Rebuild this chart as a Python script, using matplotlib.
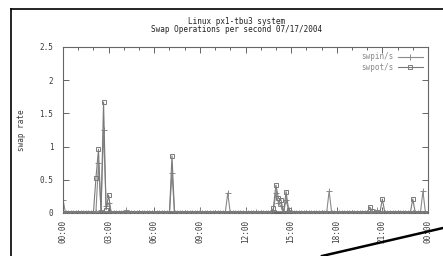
import numpy as np
import matplotlib
matplotlib.use('Agg')
from matplotlib import pyplot as plt
from matplotlib.lines import Line2D

# sar samples every 10 minutes, one row per hour (00:00 .. 23:50), plus 24:00
swpin = [0.20, 0, 0, 0, 0, 0,
         0, 0, 0, 0, 0, 0,
         0, 0.02, 0.75, 0.05, 1.25, 0.10,
         0.15, 0, 0, 0, 0, 0,
         0, 0.04, 0, 0, 0, 0,
         0, 0, 0, 0, 0, 0,
         0, 0, 0, 0, 0, 0,
         0, 0.60, 0, 0, 0, 0,
         0, 0, 0, 0, 0, 0,
         0.03, 0, 0, 0, 0, 0,
         0, 0, 0, 0, 0, 0.30,
         0, 0, 0, 0, 0, 0,
         0.02, 0, 0, 0, 0.02, 0,
         0, 0, 0, 0, 0, 0.05,
         0.30, 0.15, 0.10, 0, 0.20, 0.04,
         0, 0, 0, 0, 0, 0,
         0, 0, 0, 0, 0, 0,
         0, 0, 0, 0.33, 0, 0,
         0, 0, 0, 0, 0, 0,
         0, 0, 0, 0, 0, 0,
         0, 0.02, 0, 0.02, 0.04, 0.02,
         0, 0, 0, 0, 0, 0,
         0, 0, 0, 0, 0, 0,
         0, 0, 0, 0, 0.33, 0,
         0]
swpot = [0, 0, 0, 0, 0, 0,
         0, 0, 0, 0, 0, 0,
         0, 0.53, 0.96, 0, 1.67, 0.05,
         0.27, 0, 0, 0, 0, 0,
         0, 0, 0, 0, 0, 0,
         0, 0, 0, 0, 0, 0,
         0, 0, 0, 0, 0, 0,
         0, 0.86, 0, 0, 0, 0,
         0, 0, 0, 0, 0, 0,
         0, 0, 0, 0, 0, 0,
         0, 0, 0, 0, 0, 0,
         0, 0, 0, 0, 0, 0,
         0, 0, 0, 0, 0, 0,
         0, 0, 0, 0, 0, 0.07,
         0.42, 0.22, 0.20, 0, 0.32, 0.05,
         0, 0, 0, 0, 0, 0,
         0, 0, 0, 0, 0, 0,
         0, 0, 0, 0, 0, 0,
         0, 0, 0, 0, 0, 0,
         0, 0, 0, 0, 0, 0,
         0, 0.09, 0.03, 0, 0, 0,
         0.21, 0, 0, 0, 0, 0,
         0, 0, 0, 0, 0, 0,
         0.21, 0, 0, 0, 0, 0,
         0]
hour_ticks = [0, 3, 6, 9, 12, 15, 18, 21, 24]
hour_labels = ['00:00', '03:00', '06:00', '09:00', '12:00',
               '15:00', '18:00', '21:00', '00:00']
y_ticks = [0, 0.5, 1, 1.5, 2, 2.5]
y_labels = ['0', '0.5', '1', '1.5', '2', '2.5']

hours = np.arange(len(swpin)) / 6.0

txt = '#3a3a3a'
mono = 'DejaVu Sans Mono'
plt.rcParams['font.family'] = mono
plt.rcParams['font.size'] = 5.5

fig = plt.figure(figsize=(4.43, 2.56), dpi=100)
ax = fig.add_axes([63 / 443, 1 - 213 / 256, 365 / 443, 166 / 256])

# thick band of overlapping markers along zero, as in the scan
ax.axhline(0.005, color='#6a6a6a', lw=2.6, zorder=1)
ax.plot(hours, swpin, color='#8a8a8a', lw=0.8, marker='+', ms=4, mew=0.7,
        label='swpin/s', zorder=2)
ax.plot(hours, swpot, color='#7a7a7a', lw=0.8, marker='s', ms=3.2, mew=0.7,
        mfc='none', label='swpot/s', zorder=3)

ax.set_xlim(0, 24)
ax.set_ylim(0, 2.5)
ax.set_xticks(hour_ticks)
ax.set_xticklabels(hour_labels, rotation=90, va='top', ha='center', color=txt)
ax.set_xticks(range(0, 25), minor=True)
ax.set_yticks(y_ticks)
ax.set_yticklabels(y_labels, color=txt)
ax.tick_params(which='both', direction='in', top=True, right=True,
               colors='#666666', width=0.7)
ax.tick_params(which='major', length=4)
ax.tick_params(which='minor', length=2)
ax.tick_params(axis='x', pad=5, labelcolor=txt)
ax.tick_params(axis='y', pad=7, labelcolor=txt)
for s in ax.spines.values():
    s.set_color('#666666')
    s.set_linewidth(0.8)

ax.set_ylabel('swap rate', color=txt, labelpad=10)
fig.text(237 / 443, 1 - 21 / 256, 'Linux px1-tbu3 system', ha='center',
         va='center', color='#222222')
fig.text(237 / 443, 1 - 30 / 256, 'Swap Operations per second 07/17/2004',
         ha='center', va='center', color='#222222')

leg = ax.legend(loc='upper right', frameon=False, markerfirst=False,
                handlelength=3.2, borderaxespad=0.3, labelspacing=0.2,
                handletextpad=0.6)
for t in leg.get_texts():
    t.set_color('#8a8a8a')

# scanned page edges
fig.add_artist(Line2D([11 / 443, 1], [1 - 9 / 256, 1 - 9 / 256], color='black', lw=1.2))
fig.add_artist(Line2D([11 / 443, 11 / 443], [0, 1 - 9 / 256], color='black', lw=1.2))
fig.add_artist(Line2D([322 / 443, 1], [0, 28 / 256], color='black', lw=1.8))

fig.savefig('out.png', dpi=100)
